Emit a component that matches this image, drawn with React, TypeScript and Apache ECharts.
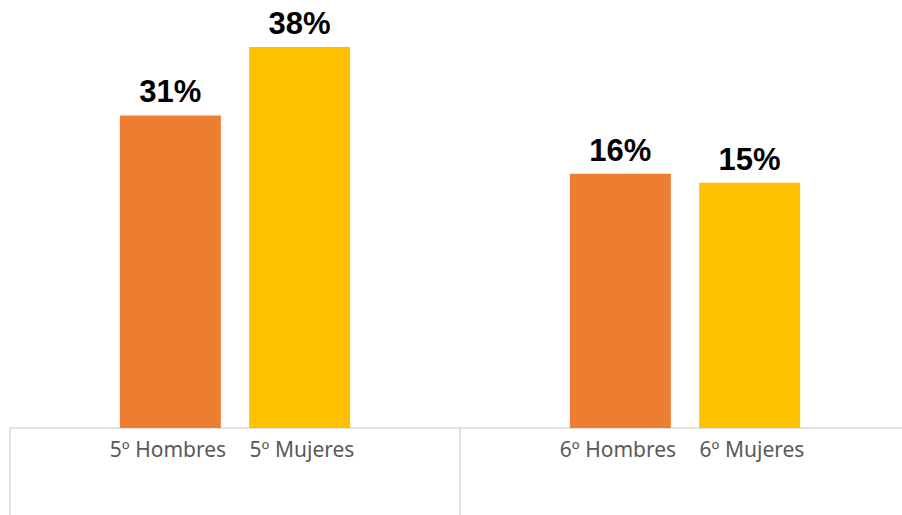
import React, { useEffect, useRef } from "react";
import * as echarts from "echarts";

const groups = ["5º", "6º"];
const seriesNames = ["Hombres", "Mujeres"];
const hombresValues = [31.1, 25.3];
const mujeresValues = [37.9, 24.4];
const hombresLabels = ["31%", "16%"];
const mujeresLabels = ["38%", "15%"];
const colors = ["#ED7D31", "#FFC000"];

export default function App() {
  const ref = useRef<HTMLDivElement>(null);
  useEffect(() => {
    if (!ref.current) return;
    const chart = echarts.init(ref.current, null, { renderer: "svg" });
    const dataLabel = (labels: string[]) => ({
      show: true,
      position: "top",
      distance: 8,
      color: "#000000",
      fontFamily: "Liberation Sans",
      fontWeight: "bold",
      fontSize: 31,
      formatter: (p: any) => labels[p.dataIndex],
    });
    const catText = { width: 134, align: "center", color: "#595959", fontSize: 21, fontFamily: "Noto Sans" };
    chart.setOption({
      animation: false,
      grid: { left: 10, width: 900, top: 26, bottom: 87, containLabel: false, outerBoundsMode: "none" },
      xAxis: {
        type: "category",
        data: groups,
        axisLine: { show: true, lineStyle: { color: "#D9D9D9", width: 1.5 } },
        axisTick: { show: true, length: 90, lineStyle: { color: "#D9D9D9", width: 1.5 } },
        axisLabel: {
          margin: 10,
          formatter: (g: string) =>
            `{a|${g} ${seriesNames[0]}}{b|${g} ${seriesNames[1]}}`,
          rich: { a: catText, b: catText },
        },
      },
      yAxis: {
        type: "value",
        min: 0,
        max: 40,
        show: false,
        splitLine: { show: false },
      },
      series: [
        {
          name: seriesNames[0],
          type: "bar",
          data: hombresValues,
          barWidth: 101,
          barGap: "28%",
          itemStyle: { color: colors[0] },
          label: dataLabel(hombresLabels),
        },
        {
          name: seriesNames[1],
          type: "bar",
          data: mujeresValues,
          barWidth: 101,
          barGap: "28%",
          itemStyle: { color: colors[1] },
          label: dataLabel(mujeresLabels),
        },
      ],
    });
    return () => chart.dispose();
  }, []);
  return <div ref={ref} style={{ width: 902, height: 515, position: "absolute", left: 0, top: 0 }} />;
}
